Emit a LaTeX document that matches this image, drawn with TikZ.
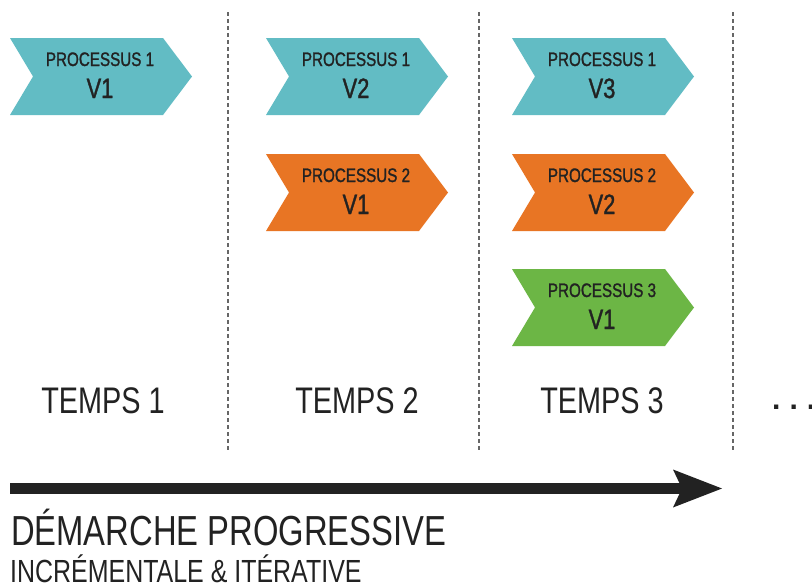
\documentclass[tikz,border=0pt]{standalone}
\usepackage{fontspec}
\setmainfont{Liberation Sans}[FakeStretch=0.78]
\newfontfamily\semib{Liberation Sans}[FakeStretch=0.78, FakeBold=1.2]
\newfontfamily\dotfont{Liberation Sans Bold}[FakeStretch=1]
\usetikzlibrary{arrows.meta}
\definecolor{cTeal}{HTML}{62BCC4}
\definecolor{cOrange}{HTML}{E87524}
\definecolor{cGreen}{HTML}{6CB645}
\definecolor{cInk}{HTML}{222222}
\definecolor{cSep}{HTML}{666666}
\tikzset{
  lbl/.style={inner sep=0pt, anchor=base, text=cInk},
  smalltxt/.style={lbl, font=\semib\fontsize{19.5}{20}\selectfont},
  bigtxt/.style={lbl, font=\semib\fontsize{28}{30}\selectfont},
  timetxt/.style={lbl, font=\fontsize{37}{40}\selectfont},
  sepline/.style={draw=cSep, line width=1.3pt, dash pattern=on 4pt off 3pt},
  mainarrow/.style={draw=cInk, line width=11pt,
    -{Stealth[length=49pt,width=38pt,inset=9pt,line width=0pt]}},
  pics/chevron/.style n args={3}{code={
    \fill[#1] (0,0) -- (153,0) -- (182,38.5) -- (153,77) -- (0,77) -- (23,38.5) -- cycle;
    \node[smalltxt] (-p) at (90,28) {PROCESSUS #2};
    \node[bigtxt] (-v) at (90,60) {V#3};
  }}
}
\begin{document}
\begin{tikzpicture}[x=1pt,y=-1pt]
  \fill[white] (0,0) rectangle (812,587);
  \useasboundingbox (0,0) rectangle (812,587);
  % separators
  \foreach \n/\x in {s1/228,s2/479,s3/733}{
    \coordinate (\n a) at (\x,12);
    \coordinate (\n b) at (\x,452);
    \draw[sepline] (\n a) -- (\n b);
  }
  % chevrons
  \pic (c11) at (10,38) {chevron={cTeal}{1}{1}};
  \pic (c21) at (266,38) {chevron={cTeal}{1}{2}};
  \pic (c22) at (266,154) {chevron={cOrange}{2}{1}};
  \pic (c31) at (512,38) {chevron={cTeal}{1}{3}};
  \pic (c32) at (512,154) {chevron={cOrange}{2}{2}};
  \pic (c33) at (512,269) {chevron={cGreen}{3}{1}};
  % time labels
  \node[timetxt] (t1) at (103,413) {TEMPS 1};
  \node[timetxt] (t2) at (357,413) {TEMPS 2};
  \node[timetxt] (t3) at (602,413) {TEMPS 3};
  \node[lbl, anchor=base west, font=\dotfont\fontsize{30}{32}\selectfont] (dots) at (772,409) {.\hspace{9pt}.\hspace{9pt}.};
  % arrow
  \coordinate (ar0) at (10,488.5);
  \coordinate (ar1) at (722,488.5);
  \draw[mainarrow] (ar0) -- (ar1);
  % titles
  \node[lbl, anchor=base west, font=\fontsize{42}{44}\selectfont] (title) at (11,545) {DÉMARCHE PROGRESSIVE};
  \node[lbl, anchor=base west, font=\fontsize{32}{34}\selectfont] (sub) at (10,582) {INCRÉMENTALE \& ITÉRATIVE};
\end{tikzpicture}
\end{document}
